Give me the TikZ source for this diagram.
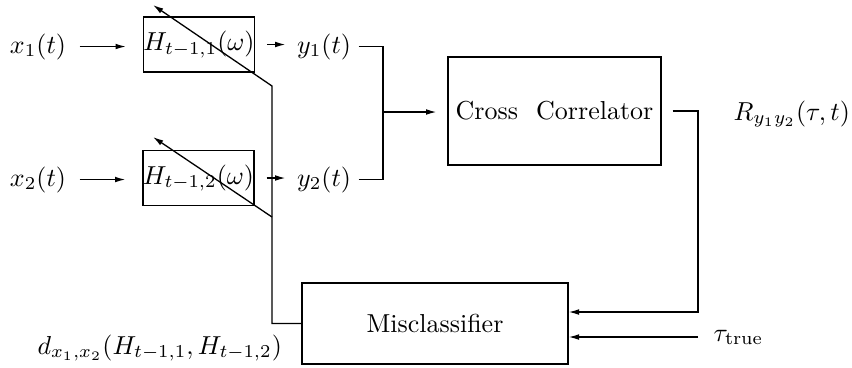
\documentclass[tikz,border=0pt]{standalone}
\usetikzlibrary{arrows.meta,calc}
\begin{document}
\begin{tikzpicture}[x=0.385pt,y=-0.385pt,
  line width=0.5pt,
  arr/.style={-{Latex[length=4pt,width=2.2pt]}},
  txt/.style={inner sep=0pt},
  hbox/.style={draw, inner sep=0pt, minimum width=41.6pt, minimum height=21.2pt},
  ccbox/.style={draw, inner sep=0pt, minimum width=82pt, minimum height=41.6pt},
  mbox/.style={draw, inner sep=0pt, minimum width=102.4pt, minimum height=31.2pt}]
\useasboundingbox (0,0) rectangle (852,367);
% inputs, filters, outputs
\node[txt, anchor=base] (x1) at (38,53) {$x_1(t)$};
\node[hbox] (H1) at (199,44.5) {$H_{t-1,1}(\omega)$};
\node[txt, anchor=base] (y1) at (324,53) {$y_1(t)$};
\node[txt, anchor=base] (x2) at (38,186) {$x_2(t)$};
\node[hbox] (H2) at (198.5,178) {$H_{t-1,2}(\omega)$};
\node[txt, anchor=base] (y2) at (324,186) {$y_2(t)$};
% blocks
\node[ccbox] (CC) at (554.5,111) {Cross\hspace{7pt}Correlator};
\node[mbox] (Mis) at (435,323.5) {Misclassifier};
% labels
\node[txt, anchor=base west] (R) at (733,120) {$R_{y_1y_2}(\tau,t)$};
\node[txt, anchor=base west] (tau) at (713,341) {$\tau_{\mathrm{true}}$};
\node[txt, anchor=base west] (d) at (37,354) {$d_{x_1,x_2}(H_{t-1,1},H_{t-1,2})$};
% coordinates
\coordinate (jn) at (383,112);
\coordinate (oc) at (698,312);
\coordinate (tin) at (698,337);
\coordinate (fb1) at (272,86);
\coordinate (tip1) at (153,5);
\coordinate (fb2) at (272,217);
\coordinate (tip2) at (153,137);
% connectors
\draw[arr, shorten <=5pt, shorten >=6.5pt] (x1.east) -- (x1.east -| H1.west);
\draw[arr, shorten <=4.6pt, shorten >=4.2pt] (H1.east) -- (H1.east -| y1.west);
\draw[arr, shorten <=5pt, shorten >=6.5pt] (x2.east) -- (x2.east -| H2.west);
\draw[arr, shorten <=4.6pt, shorten >=4.2pt] (H2.east) -- (H2.east -| y2.west);
\draw[shorten <=2.7pt] (y1.east) -| (jn);
\draw[shorten <=2.7pt] (y2.east) -| (jn);
\draw[arr, shorten >=4.2pt] (jn) -- (jn -| CC.west);
\draw[arr, shorten <=4.2pt] (CC.east) -| (oc) -- (oc -| Mis.east);
\draw[arr] (tin) -- (tin -| Mis.east);
\draw[arr] (Mis.west) -| (fb1) -- (tip1);
\draw[arr] (fb2) -- (tip2);
\end{tikzpicture}
\end{document}
